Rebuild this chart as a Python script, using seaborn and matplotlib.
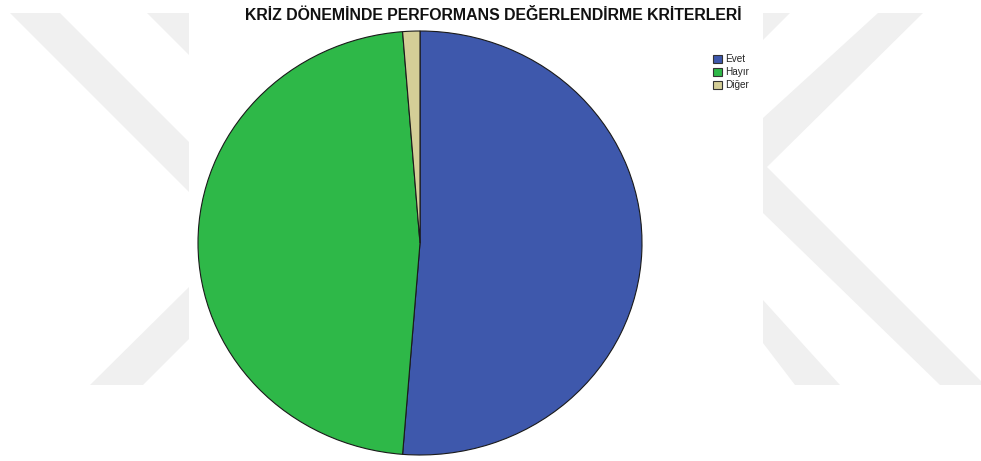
import matplotlib
matplotlib.use("Agg")
import matplotlib.pyplot as plt
from matplotlib.patches import Polygon, Rectangle
import seaborn as sns

# Survey answers: "performance evaluation criteria during the crisis"
categories = ["Evet", "Hayır", "Diğer"]
counts = [41, 38, 1]
colors = ["#3E58AC", "#2EB848", "#D4CE97"]
title = "KRİZ DÖNEMİNDE PERFORMANS DEĞERLENDİRME KRİTERLERİ"

sns.set_theme(style="white")
plt.rcParams["font.family"] = ["Liberation Sans", "DejaVu Sans"]

W, H = 981, 461
fig = plt.figure(figsize=(W / 100, H / 100), dpi=100)
fig.patch.set_facecolor("white")


def px(points):
    """Pixel coordinates (origin top-left) -> figure fraction."""
    return [(x / W, 1 - y / H) for x, y in points]


# faint page watermark behind the chart image
wm = "#F0F0F0"
bands = [
    [(10, 13), (60, 13), (189, 142), (189, 192)],
    [(147, 13), (189, 13), (189, 55)],
    [(90, 385), (143, 385), (189, 339), (189, 287)],
    [(763, 13), (790, 13), (763, 40)],
    [(878, 13), (923, 13), (767, 167), (981, 381), (981, 385),
     (940, 385), (763, 213), (763, 118)],
    [(763, 300), (840, 385), (795, 385), (763, 343)],
]
for b in bands:
    fig.patches.append(Polygon(px(b), closed=True, transform=fig.transFigure,
                               facecolor=wm, edgecolor="none", zorder=-2))
# white chart canvas
fig.patches.append(Rectangle((189 / W, 0), (763 - 189) / W, 1,
                             transform=fig.transFigure, facecolor="white",
                             edgecolor="none", zorder=-1))

# pie axes: slightly elliptical like the original output
left, right, top, bottom = 198, 642, 31, 455
ax = fig.add_axes([left / W, 1 - bottom / H, (right - left) / W, (bottom - top) / H])
ax.set_zorder(2)
ax.patch.set_alpha(0)
wedges, _ = ax.pie(counts, colors=colors, startangle=90, counterclock=False,
                   wedgeprops=dict(edgecolor="#1a1a1a", linewidth=0.8))
ax.set_aspect("auto")
ax.set_xlim(-1.0, 1.0)
ax.set_ylim(-1.0, 1.0)
ax.axis("off")

fig.text(493 / W, 1 - 15 / H, title, ha="center", va="center",
         fontsize=11.4, fontweight="bold", color="#111111", zorder=3)

leg = fig.legend(wedges, categories, loc="upper left",
                 bbox_to_anchor=(713 / W, 1 - 54 / H), frameon=False,
                 fontsize=7.2, handlelength=0.85, handleheight=0.85,
                 handletextpad=0.35, labelspacing=0.3, borderpad=0,
                 borderaxespad=0)
leg.set_zorder(3)
for h in leg.legend_handles:
    h.set_edgecolor("#333333")
    h.set_linewidth(0.8)

fig.savefig("out.png", dpi=100, facecolor="white")
